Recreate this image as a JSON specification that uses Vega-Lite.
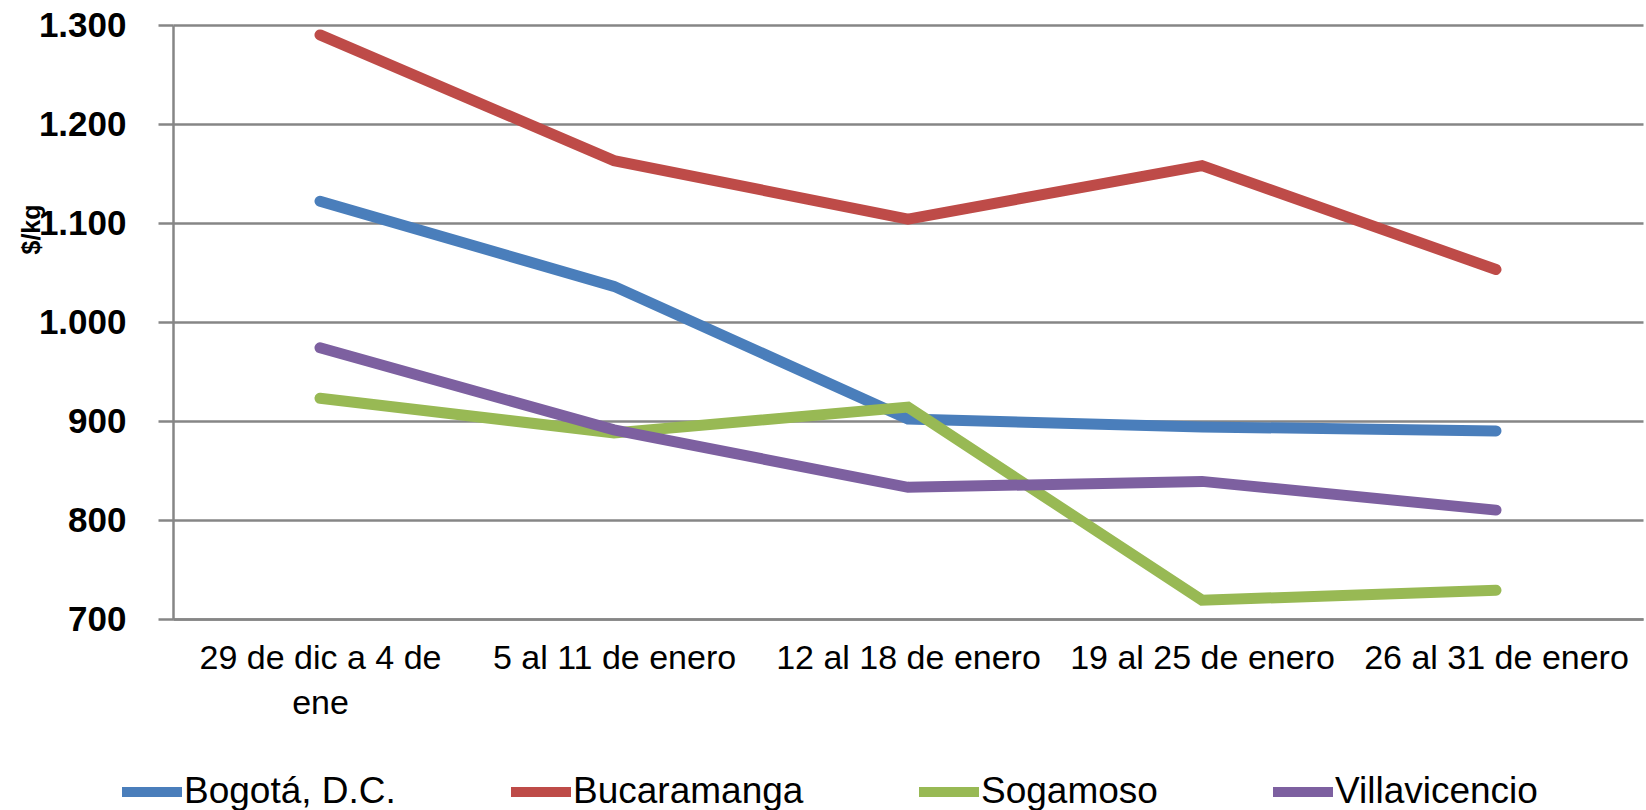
{
  "$schema": "https://vega.github.io/schema/vega-lite/v6.json",
  "autosize": {"type": "none"},
  "width": 1470,
  "height": 594,
  "padding": {"left": 173, "top": 25, "right": 3, "bottom": 191},
  "background": "white",
  "config": {
    "view": {"stroke": null},
    "font": "Liberation Sans"
  },
  "data": {
    "values": [
      {"semana": "29 de dic a 4 de ene", "ciudad": "Bogotá, D.C.", "precio": 1122},
      {"semana": "5 al 11 de enero", "ciudad": "Bogotá, D.C.", "precio": 1036},
      {"semana": "12 al 18 de enero", "ciudad": "Bogotá, D.C.", "precio": 902},
      {"semana": "19 al 25 de enero", "ciudad": "Bogotá, D.C.", "precio": 894},
      {"semana": "26 al 31 de enero", "ciudad": "Bogotá, D.C.", "precio": 890},
      {"semana": "29 de dic a 4 de ene", "ciudad": "Bucaramanga", "precio": 1290},
      {"semana": "5 al 11 de enero", "ciudad": "Bucaramanga", "precio": 1163},
      {"semana": "12 al 18 de enero", "ciudad": "Bucaramanga", "precio": 1104},
      {"semana": "19 al 25 de enero", "ciudad": "Bucaramanga", "precio": 1158},
      {"semana": "26 al 31 de enero", "ciudad": "Bucaramanga", "precio": 1053},
      {"semana": "29 de dic a 4 de ene", "ciudad": "Sogamoso", "precio": 923},
      {"semana": "5 al 11 de enero", "ciudad": "Sogamoso", "precio": 888},
      {"semana": "12 al 18 de enero", "ciudad": "Sogamoso", "precio": 914},
      {"semana": "19 al 25 de enero", "ciudad": "Sogamoso", "precio": 719},
      {"semana": "26 al 31 de enero", "ciudad": "Sogamoso", "precio": 729},
      {"semana": "29 de dic a 4 de ene", "ciudad": "Villavicencio", "precio": 974},
      {"semana": "5 al 11 de enero", "ciudad": "Villavicencio", "precio": 891},
      {"semana": "12 al 18 de enero", "ciudad": "Villavicencio", "precio": 833},
      {"semana": "19 al 25 de enero", "ciudad": "Villavicencio", "precio": 839},
      {"semana": "26 al 31 de enero", "ciudad": "Villavicencio", "precio": 810}
    ]
  },
  "mark": {"type": "line", "strokeWidth": 11, "strokeCap": "round", "strokeJoin": "miter"},
  "encoding": {
    "x": {
      "field": "semana",
      "type": "nominal",
      "sort": null,
      "scale": {"paddingInner": 0, "paddingOuter": 0.5},
      "axis": {
        "title": null,
        "labelAngle": 0,
        "labelFontSize": 34,
        "labelColor": "black",
        "labelPadding": 22,
        "labelLineHeight": 45,
        "labelBaseline": "top",
        "labelLimit": 400,
        "ticks": false,
        "grid": false,
        "domainColor": "#868686",
        "domainWidth": 2.5,
        "labelExpr": "datum.label == '29 de dic a 4 de ene' ? ['29 de dic a 4 de', 'ene'] : datum.label"
      }
    },
    "y": {
      "field": "precio",
      "type": "quantitative",
      "scale": {"domain": [700, 1300], "nice": false, "zero": false},
      "axis": {
        "title": "$/kg",
        "titleFontSize": 25,
        "titleFontWeight": "bold",
        "titleColor": "black",
        "titleX": -142,
        "titleY": 204,
        "titleAlign": "center",
        "titleBaseline": "middle",
        "titleAngle": -90,
        "values": [700, 800, 900, 1000, 1100, 1200, 1300],
        "labelFontSize": 35,
        "labelFontWeight": "bold",
        "labelColor": "black",
        "labelPadding": 32,
        "tickSize": 15,
        "tickColor": "#868686",
        "tickWidth": 2.5,
        "domainColor": "#868686",
        "domainWidth": 2.5,
        "gridColor": "#868686",
        "gridWidth": 2.5,
        "labelExpr": "replace(format(datum.value, ','), ',', '.')"
      }
    },
    "color": {
      "field": "ciudad",
      "type": "nominal",
      "scale": {
        "domain": ["Bogotá, D.C.", "Bucaramanga", "Sogamoso", "Villavicencio"],
        "range": ["#4A7EBB", "#BE4B48", "#98B954", "#7D60A0"]
      },
      "legend": {
        "title": null,
        "orient": "none",
        "direction": "horizontal",
        "legendX": -56,
        "legendY": 732,
        "symbolType": "stroke",
        "symbolSize": 3600,
        "symbolStrokeWidth": 10,
        "labelFontSize": 37,
        "labelColor": "black",
        "labelOffset": -3,
        "columnPadding": 95,
        "labelLimit": 400
      }
    }
  }
}
